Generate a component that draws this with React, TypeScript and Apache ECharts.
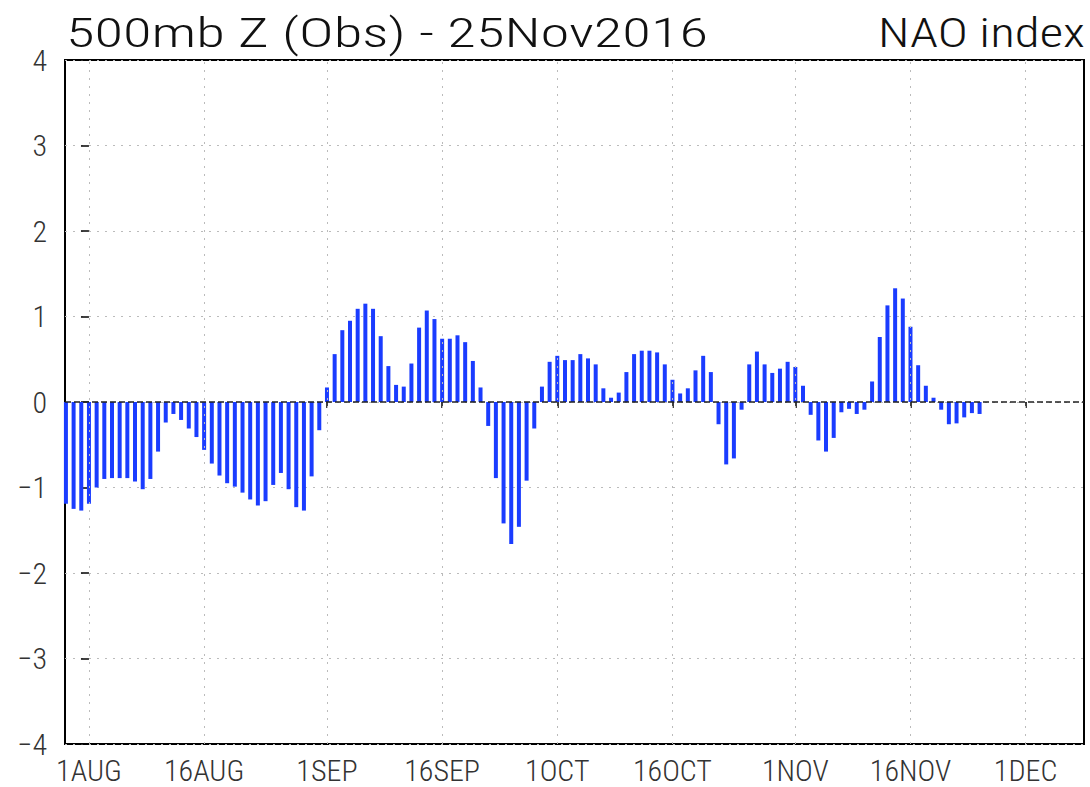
import React, { useEffect, useRef } from "react";
import * as echarts from "echarts";

// ---- data ----
const startDate = "2016-07-29"; // first bar
const julValues = [-1.19, -1.25, -1.27];
const augValues = [
  -1.19, -1.0, -0.9, -0.89, -0.89, -0.89, -0.93, -1.02, -0.9, -0.58, -0.24,
  -0.14, -0.21, -0.31, -0.41, -0.56, -0.72, -0.86, -0.95, -0.99, -1.06, -1.14,
  -1.21, -1.16, -0.97, -0.83, -1.02, -1.23, -1.27, -0.87, -0.33,
];
const sepValues = [
  0.17, 0.56, 0.84, 0.95, 1.09, 1.15, 1.09, 0.77, 0.42, 0.2, 0.18, 0.45, 0.87,
  1.07, 0.97, 0.74, 0.74, 0.78, 0.7, 0.48, 0.17, -0.28, -0.89, -1.42, -1.66,
  -1.46, -0.92, -0.31, 0.18, 0.47,
];
const octValues = [
  0.54, 0.49, 0.49, 0.56, 0.51, 0.44, 0.16, 0.05, 0.11, 0.35, 0.56, 0.6, 0.6,
  0.58, 0.44, 0.26, 0.1, 0.16, 0.37, 0.54, 0.35, -0.26, -0.73, -0.66, -0.09,
  0.44, 0.59, 0.44, 0.34, 0.39, 0.47,
];
const novValues = [
  0.41, 0.19, -0.15, -0.45, -0.58, -0.42, -0.12, -0.08, -0.14, -0.09, 0.24,
  0.76, 1.13, 1.33, 1.21, 0.88, 0.43, 0.19, 0.05, -0.09, -0.26, -0.25, -0.18,
  -0.13, -0.14,
];
const tickLabels = ["1AUG", "16AUG", "1SEP", "16SEP", "1OCT", "16OCT", "1NOV", "16NOV", "1DEC"];
const tickDates = [
  "2016-08-01", "2016-08-16", "2016-09-01", "2016-09-16", "2016-10-01",
  "2016-10-16", "2016-11-01", "2016-11-16", "2016-12-01",
];
const titleLeft = "500mb Z (Obs) - 25Nov2016";
const titleRight = "NAO index";

// ---- helpers ----
const DAY = 86400000;
const ORIGIN = Date.parse("2016-08-01T00:00:00Z");
const dayIndex = (s: string) => Math.round((Date.parse(s + "T00:00:00Z") - ORIGIN) / DAY);

const allValues = [...julValues, ...augValues, ...sepValues, ...octValues, ...novValues];
const firstDay = dayIndex(startDate);
const barData = allValues.map((v, i) => [firstDay + i, v]);
const tickDays = tickDates.map(dayIndex);

const FONT = '"Roboto Condensed", "Liberation Sans Narrow", Roboto, "Liberation Sans", sans-serif';
const WEIGHT = 300;

function measure(text: string, size: number) {
  const ctx = document.createElement("canvas").getContext("2d");
  if (!ctx) return text.length * size * 0.5;
  ctx.font = `${WEIGHT} ${size}px ${FONT}`;
  return ctx.measureText(text).width;
}

export default function App() {
  const ref = useRef<HTMLDivElement>(null);

  useEffect(() => {
    if (!ref.current) return;
    const chart = echarts.init(ref.current, undefined, { renderer: "svg" });

    const titleSize = 40;
    const leftScale = 642 / measure(titleLeft, titleSize);
    const rightScale = 207 / measure(titleRight, titleSize);

    const minusFmt = (v: number) => (v < 0 ? "\u2212" + Math.abs(v) : String(v));

    const option: any = {
      animation: false,
      backgroundColor: "#ffffff",
      grid: {
        left: 65,
        top: 60,
        width: 1019,
        height: 684,
        show: true,
        borderColor: "#000",
        borderWidth: 2,
        backgroundColor: "transparent",
      },
      xAxis: {
        type: "value",
        min: -3.12,
        max: 129.6,
        axisLine: { show: false },
        splitLine: { show: false },
        axisTick: {
          show: true,
          customValues: tickDays,
          length: 6,
          lineStyle: { color: "#000", width: 1.5 },
        },
        axisLabel: {
          customValues: tickDays,
          formatter: (v: number) => {
            const k = tickDays.indexOf(Math.round(v));
            return k >= 0 ? tickLabels[k] : "";
          },
          fontSize: 30,
          fontFamily: FONT,
          fontWeight: WEIGHT,
          color: "#333",
          margin: 11,
        },
      },
      yAxis: {
        type: "value",
        min: -4,
        max: 4,
        interval: 1,
        axisLine: { show: false },
        axisTick: { show: true, length: 8, lineStyle: { color: "#000", width: 1.5 } },
        axisLabel: {
          formatter: minusFmt,
          fontSize: 30,
          fontFamily: FONT,
          fontWeight: WEIGHT,
          color: "#333",
          margin: 18,
        },
        splitLine: { show: true, lineStyle: { color: "#bbb", type: [2, 6], width: 1 } },
      },
      series: [
        {
          type: "bar",
          data: barData,
          barWidth: 4,
          itemStyle: { color: "#1a3cff" },
          markLine: {
            silent: true,
            symbol: ["none", "none"],
            label: { show: false },
            data: [
              ...tickDays.map((d) => ({
                xAxis: d,
                lineStyle: { color: "#bbb", type: [2, 6], width: 1 },
              })),
              { yAxis: 0, lineStyle: { color: "#222", type: [6, 3], width: 1.5 } },
            ],
          },
        },
      ],
      graphic: [
        {
          type: "text",
          x: 66,
          y: 33,
          scaleX: leftScale,
          style: {
            text: titleLeft,
            fontSize: titleSize,
            fontFamily: FONT,
            fontWeight: WEIGHT,
            fill: "#111",
            align: "left",
            verticalAlign: "middle",
            textAlign: "left",
            textVerticalAlign: "middle",
          },
        },
        {
          type: "text",
          x: 1085,
          y: 33,
          scaleX: rightScale,
          style: {
            text: titleRight,
            fontSize: titleSize,
            fontFamily: FONT,
            fontWeight: WEIGHT,
            fill: "#111",
            align: "right",
            verticalAlign: "middle",
            textAlign: "right",
            textVerticalAlign: "middle",
          },
        },
      ],
    };

    chart.setOption(option);
    return () => chart.dispose();
  }, []);

  return (
    <div
      ref={ref}
      style={{ position: "fixed", left: 0, top: 0, width: 1090, height: 787, background: "#fff" }}
    />
  );
}
